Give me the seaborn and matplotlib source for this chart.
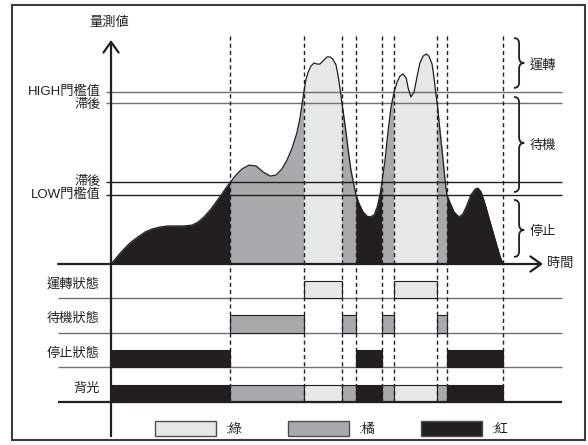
import matplotlib
matplotlib.use("Agg")
import matplotlib.pyplot as plt
from matplotlib.patches import Patch, PathPatch, Rectangle
from matplotlib.path import Path
import pandas as pd
import seaborn as sns

# Measured value over time (time 0..100, value in arbitrary units)
time = [0, 1.3, 2.6, 3.8, 5.1, 6.9, 8.7, 10.5, 12.5, 14.5, 16.6, 18.6, 20.7, 22.2,
        23.7, 25.3, 26.8, 28.3, 29.3, 30.4, 31.9, 33.4, 35.2, 37.0, 38.8, 40.6,
        42.1, 43.6, 44.9, 46.2, 47.4, 48.2, 48.7, 49.2, 49.7, 50.3, 51.0, 51.8,
        52.6, 53.3, 54.3, 55.1, 55.9, 56.6, 57.4, 57.9, 58.4, 58.9, 59.7, 60.5,
        61.2, 62.0, 62.5, 63.3, 64.3, 65.3, 66.1, 67.1, 67.9, 68.6, 69.1, 69.9,
        70.7, 71.4, 72.2, 73.0, 73.7, 74.5, 75.3, 75.8, 76.5, 77.3, 78.1, 78.8,
        79.6, 80.4, 81.1, 81.9, 82.4, 82.9, 83.2, 83.9, 84.7, 85.2, 85.7, 86.5,
        87.5, 88.8, 89.8, 90.8, 91.8, 92.9, 93.6, 94.4, 95.4, 96.7, 98.0, 99.2, 100]
value = [0, 2.8, 5.6, 7.9, 10.2, 12.6, 14.9, 16.3, 17.2, 17.7, 17.7, 17.7, 18.1, 19.5,
         21.9, 25.1, 28.8, 32.6, 35.3, 38.0, 41.4, 44.2, 46.0, 45.6, 42.8, 40.9,
         41.4, 44.2, 48.4, 54.0, 60.9, 67.9, 74.0, 80.0, 85.6, 89.3, 92.1, 93.5,
         93.0, 93.0, 94.9, 96.3, 96.3, 95.3, 92.6, 87.9, 81.9, 75.0, 64.7, 53.0,
         43.7, 36.3, 32.0, 27.9, 24.2, 22.3, 21.9, 22.8, 26.5, 32.1, 38.0, 48.4,
         62.3, 72.6, 80.0, 84.7, 87.4, 88.4, 86.5, 81.9, 77.7, 80.0, 87.4, 93.5,
         96.7, 97.7, 96.7, 93.0, 86.5, 78.6, 75.0, 62.3, 48.4, 39.1, 32.0, 28.4,
         24.2, 21.9, 23.3, 27.4, 32.1, 34.9, 35.3, 33.5, 27.9, 19.5, 11.2, 3.7, 0]

# Threshold levels
HIGH = 80
HIGH_HYST = 75
LOW_HYST = 38
LOW = 32
threshold_levels = [HIGH, HIGH_HYST, LOW_HYST, LOW]
threshold_labels = ["HIGH門檻值", "滯後", "滯後", "LOW門檻值"]

# State machine result: switch times and the state held in each interval
switch_times = [0, 30.4, 49.2, 58.9, 62.5, 69.1, 72.2, 83.2, 85.7, 100]
segment_states = ["停止", "待機", "運轉", "待機", "停止", "待機", "運轉", "待機", "停止"]

state_names = ["運轉", "待機", "停止"]
row_labels = ["運轉狀態", "待機狀態", "停止狀態", "背光"]
legend_labels = [":綠", ":橘", ":紅"]

INK = "#231f20"
GREY_LINE = "#707070"
state_colors = {"運轉": "#e6e7e8", "待機": "#a7a9ac", "停止": INK}
row_of = {"運轉": 3, "待機": 2, "停止": 1}

sns.set_theme(style="white")
plt.rcParams["font.family"] = ["Liberation Sans", "Noto Sans CJK TC", "DejaVu Sans"]
FS = 9.5

W, H = 588, 445
fig = plt.figure(figsize=(W / 100, H / 100), dpi=100)
top_frac = 264 / H
ax = fig.add_axes([0, 1 - top_frac, 1, top_frac])
axb = fig.add_axes([0, 0, 1, 1 - top_frac])
XLIM = (-28.32, 121.68)
ax.set_xlim(XLIM)
ax.set_ylim(0, 122.8)
axb.set_xlim(XLIM)
axb.set_ylim(-1.24, 3.98)

df = pd.DataFrame({"time": time, "value": value})

# area under the curve, shaded by state
for t0, t1, s in zip(switch_times[:-1], switch_times[1:], segment_states):
    seg = df[(df.time >= t0) & (df.time <= t1)]
    ax.fill_between(seg.time, 0, seg.value, color=state_colors[s],
                    edgecolor=state_colors[s], lw=0.3, zorder=1)

# threshold lines and labels (the upper hysteresis label sits just below its line)
label_shift = [0, -1.2, 0, 0]
for lvl, lab, dy in zip(threshold_levels, threshold_labels, label_shift):
    c = GREY_LINE if lvl >= HIGH_HYST else INK
    ax.hlines(lvl, -1.3, 115.05, color=c, lw=1.0, zorder=3)
    ax.text(-2.55, lvl + dy, lab, ha="right", va="center", fontsize=FS, color=INK)

# measured curve
sns.lineplot(data=df, x="time", y="value", ax=ax, color=INK, lw=0.9, zorder=4, sort=False)

# state switch markers
dash = (0, (3, 2.2))
ax.vlines(switch_times[1:], 0, 107.4, colors=INK, linestyles=dash, lw=1.0, zorder=5)
axb.vlines(switch_times[1:], 0, 3.98, colors=INK, linestyles=dash, lw=1.0, zorder=5)

# axes with arrow heads
arrow = dict(arrowstyle="->,head_length=0.45,head_width=0.32", lw=1.6, color=INK,
             shrinkA=0, shrinkB=0, mutation_scale=17)
ax.annotate("", xy=(0, 104.2), xytext=(0, 0), arrowprops=arrow, annotation_clip=False, zorder=6)
ax.annotate("", xy=(110.2, 0), xytext=(-13.5, 0), arrowprops=arrow, annotation_clip=False, zorder=6)
axb.vlines(0, -1.01, 3.98, color=INK, lw=1.6, zorder=6)
ax.text(-0.5, 112.1, "量測値", ha="center", va="center", fontsize=FS, color=INK)
ax.text(111.2, 0, "時間", ha="left", va="center", fontsize=FS, color=INK)

# zone braces
def brace(a, x, top, bottom, tip, w=1.3, h=2.6):
    verts = [(x - w, top), (x, top), (x, top - h),
             (x, tip + h), (x, tip), (x + w, tip),
             (x, tip), (x, tip - h),
             (x, bottom + h), (x, bottom), (x - w, bottom)]
    codes = [Path.MOVETO, Path.CURVE3, Path.CURVE3,
             Path.LINETO, Path.CURVE3, Path.CURVE3,
             Path.CURVE3, Path.CURVE3,
             Path.LINETO, Path.CURVE3, Path.CURVE3]
    a.add_patch(PathPatch(Path(verts, codes), fill=False, lw=1.3, ec=INK,
                          clip_on=False, zorder=6))

brace_spans = [(105.1, 81.9, 93.5), (77.7, 33.5, 56.3), (29.8, 3.3, 15.8)]
brace_label_y = [92.6, 54.9, 14.9]
for (tp, bt, tip), ly, lab in zip(brace_spans, brace_label_y, state_names):
    brace(ax, 104.1, tp, bt, tip)
    ax.text(106.9, ly, lab, ha="left", va="center", fontsize=FS, color=INK)

# state timing rows
axb.hlines([3, 2, 1], -13.5, 115.05, color=GREY_LINE, lw=1.0, zorder=2)
axb.hlines(0, -13.5, 115.05, color=INK, lw=1.6, zorder=4)
for t0, t1, s in zip(switch_times[:-1], switch_times[1:], segment_states):
    for r in (row_of[s], 0):
        axb.bar(t0, 0.5, width=t1 - t0, bottom=r, align="edge",
                color=state_colors[s], edgecolor=INK, lw=0.8, zorder=3)
for r, lab in zip([3, 2, 1, 0], row_labels):
    axb.text(-2.8, r + 0.39, lab, ha="right", va="center", fontsize=FS, color=INK)

# colour legend
handles = [Patch(facecolor=state_colors[s], edgecolor="#4d4d4d", lw=1.0) for s in state_names]
leg = axb.legend(handles, legend_labels, loc="center", bbox_to_anchor=(332 / W, 1 - 428.5 / H),
                 bbox_transform=fig.transFigure, ncol=3, frameon=False, fontsize=FS,
                 handlelength=4.6, handleheight=1.45, handletextpad=0.8, columnspacing=3.4)
for txt in leg.get_texts():
    txt.set_color(INK)

for a in (ax, axb):
    a.axis("off")

# outer frame
fig.patches.append(Rectangle((12 / W, 1 - 440 / H), 573 / W, 435 / H, fill=False,
                             lw=1.5, ec="#3c3c3c", transform=fig.transFigure))

fig.savefig("out.png", dpi=100)
